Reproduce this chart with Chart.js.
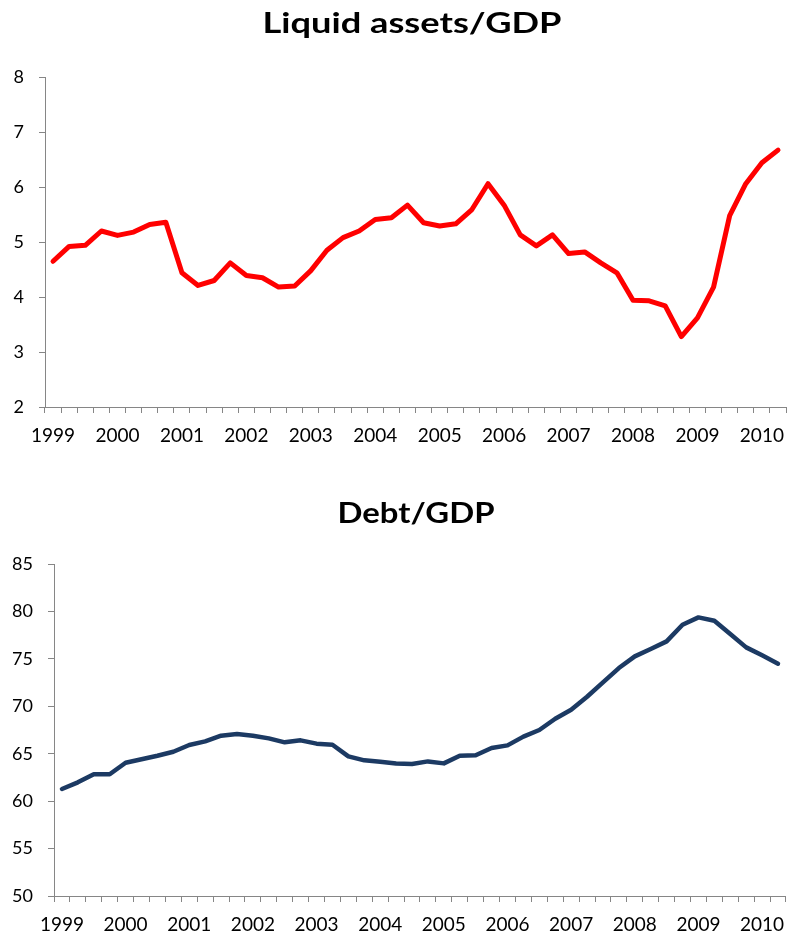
<!DOCTYPE html>
<html>
<head>
<meta charset="utf-8">
<script src="https://cdn.jsdelivr.net/npm/chart.js@4"></script>
<style>
  html, body { margin: 0; padding: 0; background: #fff; }
  canvas { display: block; }
</style>
</head>
<body>
<canvas id="liquid" width="789" height="470"></canvas>
<canvas id="debt" width="789" height="470"></canvas>
<script>
// Quarterly series, 1999 Q1 to 2010 Q2
const years = ['1999', '2000', '2001', '2002', '2003', '2004', '2005', '2006', '2007', '2008', '2009', '2010'];
const quarters = years.flatMap(y => ['Q1', 'Q2', 'Q3', 'Q4'].map(q => y + ' ' + q)).slice(0, 46);

const liquidAssets = [
  4.65, 4.92, 4.94, 5.20, 5.12, 5.18, 5.32, 5.36,
  4.44, 4.21, 4.30, 4.62, 4.39, 4.35, 4.18, 4.20,
  4.48, 4.85, 5.08, 5.20, 5.41, 5.44, 5.67, 5.35,
  5.29, 5.33, 5.59, 6.06, 5.67, 5.13, 4.93, 5.13,
  4.79, 4.82, 4.62, 4.44, 3.94, 3.93, 3.84, 3.28,
  3.62, 4.18, 5.48, 6.06, 6.44, 6.67
];

const debt = [
  61.28, 61.98, 62.83, 62.83, 64.05, 64.41, 64.79, 65.21,
  65.92, 66.30, 66.90, 67.08, 66.90, 66.62, 66.20, 66.41,
  66.06, 65.95, 64.72, 64.30, 64.16, 63.98, 63.91, 64.19,
  63.98, 64.79, 64.83, 65.60, 65.88, 66.80, 67.50, 68.69,
  69.64, 71.01, 72.52, 74.03, 75.26, 76.04, 76.84, 78.60,
  79.37, 79.02, 77.62, 76.21, 75.37, 74.49
];

const liquidTicks = { min: 2, max: 8, step: 1 };
const debtTicks = { min: 50, max: 85, step: 5 };

const AXIS_GREY = '#868686';
const FONT = 'Lato, "Open Sans", sans-serif';

// Wide bold heading, stretched horizontally to a set width
const headingPlugin = {
  id: 'heading',
  afterDraw(chart, args, o) {
    const ctx = chart.ctx;
    ctx.save();
    ctx.font = 'bold 28px ' + FONT;
    ctx.fillStyle = '#000';
    ctx.textAlign = 'center';
    ctx.textBaseline = 'alphabetic';
    const sx = o.width / ctx.measureText(o.text).width;
    ctx.translate(o.x, o.baseline);
    ctx.scale(sx, 1);
    ctx.fillText(o.text, 0, 0);
    ctx.restore();
  }
};

function makeChart(id, values, color, lineWidth, yRange, opts) {
  return new Chart(document.getElementById(id), {
    type: 'line',
    data: {
      labels: quarters,
      datasets: [{
        data: values,
        borderColor: color,
        borderWidth: lineWidth,
        borderJoinStyle: 'round',
        borderCapStyle: 'round',
        pointRadius: 0,
        tension: 0,
        fill: false
      }]
    },
    plugins: [headingPlugin],
    options: {
      responsive: false,
      animation: false,
      devicePixelRatio: 1,
      layout: { padding: { top: opts.top, right: 0, bottom: 0, left: 0 } },
      plugins: {
        legend: { display: false },
        tooltip: { enabled: false },
        title: { display: false },
        heading: opts.heading
      },
      scales: {
        x: {
          offset: true,
          grid: {
            offset: true,
            drawOnChartArea: false,
            drawTicks: true,
            tickLength: 6,
            color: AXIS_GREY
          },
          border: { color: AXIS_GREY, width: 1 },
          ticks: {
            autoSkip: false,
            maxRotation: 0,
            padding: 11,
            color: '#000',
            font: { family: FONT, size: 19 },
            callback: function(value) {
              const q = this.getLabelForValue(value);
              return q.endsWith('Q1') ? q.slice(0, 4) : '';
            }
          },
          afterFit: scale => { scale.height = opts.xHeight; }
        },
        y: {
          min: yRange.min,
          max: yRange.max,
          grid: {
            drawOnChartArea: false,
            drawTicks: true,
            tickLength: 6,
            color: AXIS_GREY
          },
          border: { color: AXIS_GREY, width: 1 },
          ticks: {
            stepSize: yRange.step,
            padding: 15,
            color: '#000',
            font: { family: FONT, size: 18 }
          },
          afterFit: scale => { scale.width = opts.yWidth; }
        }
      }
    }
  });
}

makeChart('liquid', liquidAssets, '#ff0000', 5, liquidTicks, {
  heading: { text: 'Liquid assets/GDP', x: 412, baseline: 33, width: 299 },
  top: 77,
  xHeight: 63,
  yWidth: 45
});

makeChart('debt', debt, '#1c3a63', 4.5, debtTicks, {
  heading: { text: 'Debt/GDP', x: 416, baseline: 53, width: 157 },
  top: 94,
  xHeight: 44,
  yWidth: 54
});
</script>
</body>
</html>
